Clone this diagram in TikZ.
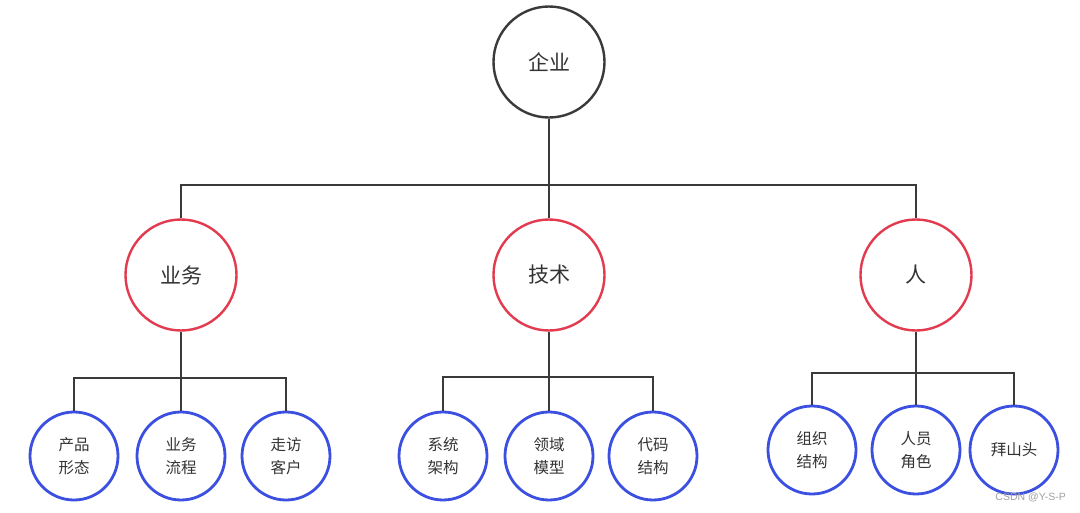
\documentclass[tikz,border=0pt]{standalone}
\usepackage{fontspec}
\newfontfamily\cjk{Noto Sans CJK SC}
\newfontfamily\wm{Liberation Sans}
\definecolor{linegray}{HTML}{3A3A3A}
\definecolor{redc}{HTML}{E23A4E}
\definecolor{bluec}{HTML}{3B4FE0}
\definecolor{textc}{HTML}{333333}
\definecolor{wmc}{HTML}{A0A0A0}
\begin{document}
\begin{tikzpicture}[x=1pt,y=-1pt,
  base/.style={circle,line width=2.4pt,inner sep=0pt,align=center,text=textc,font=\cjk},
  topnode/.style={base,draw=linegray,minimum size=111pt,font=\cjk\fontsize{21}{24}\selectfont},
  midnode/.style={base,draw=redc,minimum size=111pt,font=\cjk\fontsize{21}{24}\selectfont},
  leafnode/.style={base,draw=bluec,line width=2.8pt,minimum size=88pt,font=\cjk\fontsize{15.5}{23}\selectfont},
  conn/.style={draw=linegray,line width=2.4pt}]
\useasboundingbox (0,0) rectangle (1080,512);
\fill[white] (0,0) rectangle (1080,512);
% nodes
\node[topnode] (top) at (549,62) {企业};
\node[midnode] (m1) at (181,275) {业务};
\node[midnode] (m2) at (549,275) {技术};
\node[midnode] (m3) at (916,275) {人};
\node[leafnode] (l1) at (74,456) {产品\\形态};
\node[leafnode] (l2) at (181,456) {业务\\流程};
\node[leafnode] (l3) at (286,456) {走访\\客户};
\node[leafnode] (l4) at (443,456) {系统\\架构};
\node[leafnode] (l5) at (549,456) {领域\\模型};
\node[leafnode] (l6) at (653,456) {代码\\结构};
\node[leafnode] (l7) at (812,450) {组织\\结构};
\node[leafnode] (l8) at (916,450) {人员\\角色};
\node[leafnode] (l9) at (1014,450) {拜山头};
% bar coordinates
\coordinate (b0) at (0,185);
\coordinate (b1) at (0,378);
\coordinate (b2) at (0,377);
\coordinate (b3) at (0,373);
% connectors
\draw[conn] (top.south) -- (m2.north);
\draw[conn] (m1.north) |- (m3.north |- b0) -- (m3.north);
\draw[conn] (m1.south) -- (l2.north);
\draw[conn] (l1.north) |- (l3.north |- b1) -- (l3.north);
\draw[conn] (m2.south) -- (l5.north);
\draw[conn] (l4.north) |- (l6.north |- b2) -- (l6.north);
\draw[conn] (m3.south) -- (l8.north);
\draw[conn] (l7.north) |- (l9.north |- b3) -- (l9.north);
% watermark
\node[font=\wm\fontsize{10.5}{12}\selectfont,text=wmc,anchor=east,inner sep=0pt] (wmk) at (1066,497) {CSDN @Y-S-P};
\end{tikzpicture}
\end{document}
